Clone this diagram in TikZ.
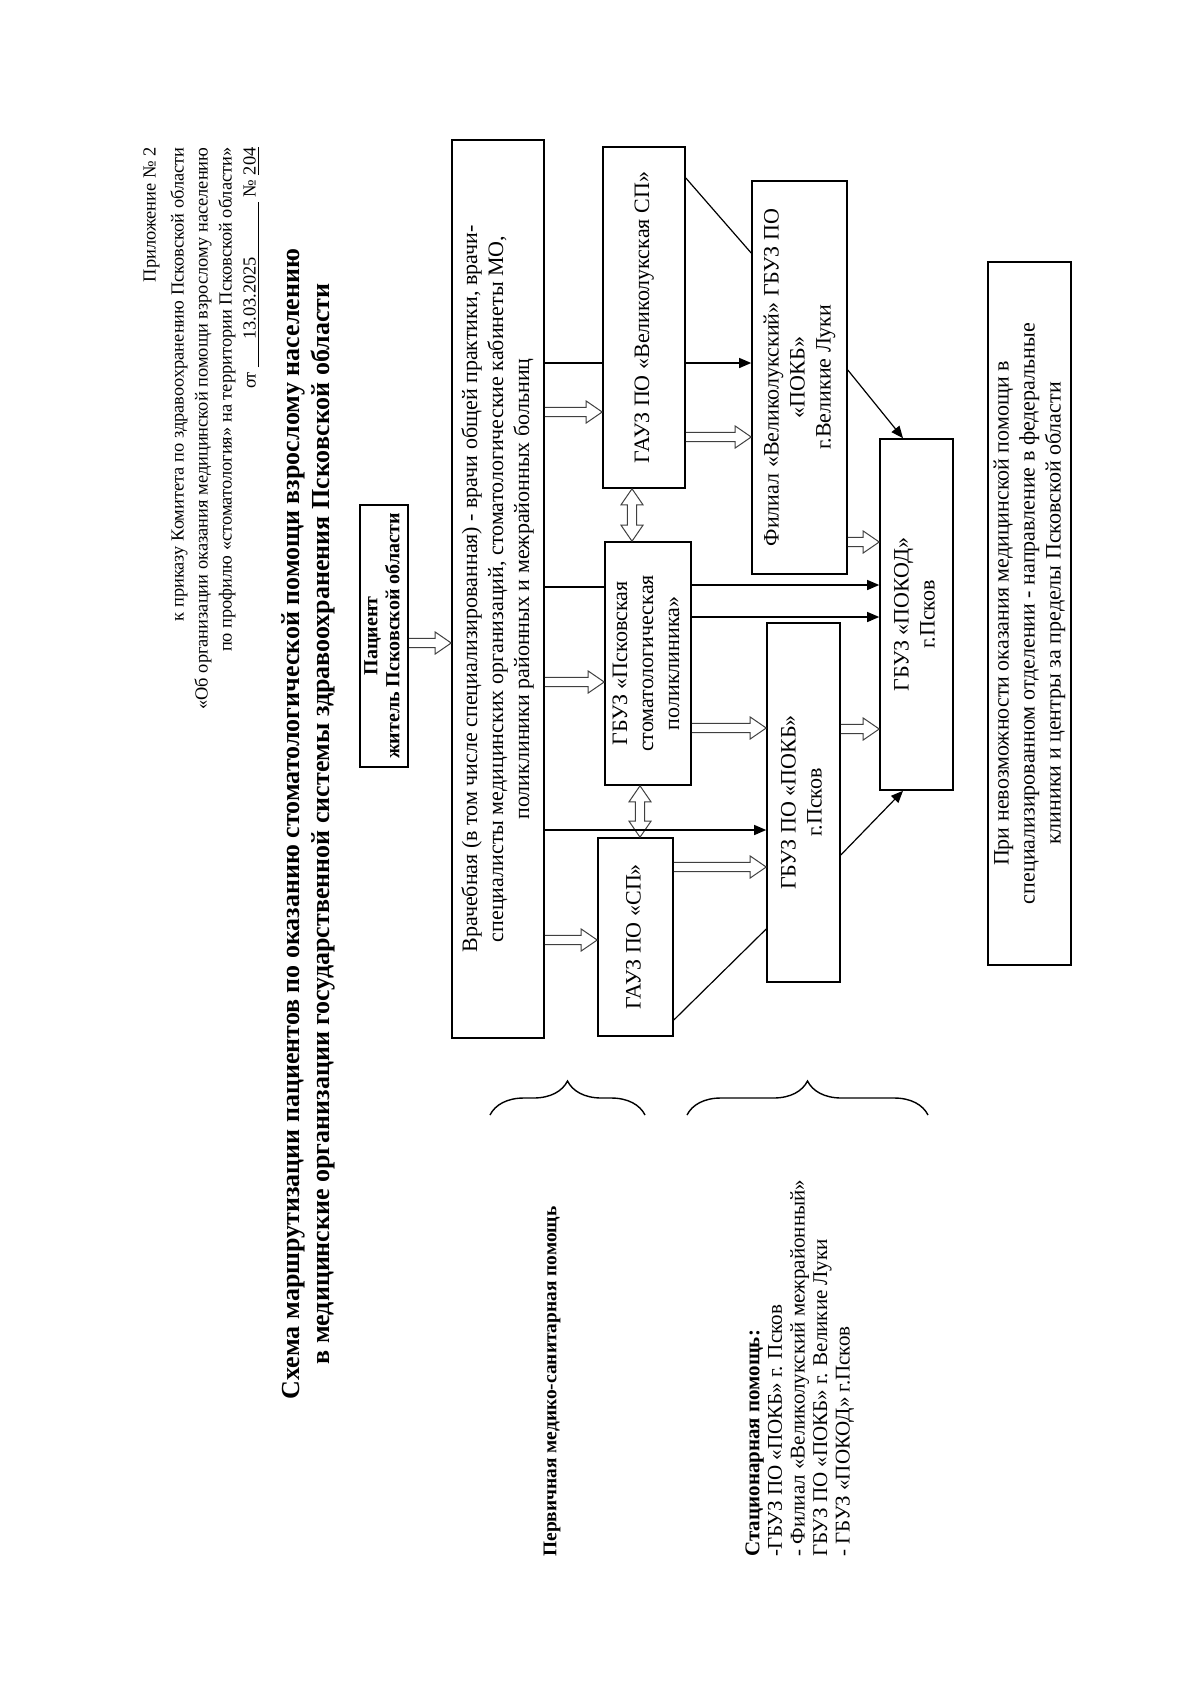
\documentclass[tikz,border=0pt]{standalone}
\usepackage{fontspec}
\setmainfont{Liberation Serif}
\usetikzlibrary{
    arrows.meta,
    calc,
    decorations.pathreplacing
}

% повёрнутый текст внутри блока
\newcommand\rottext[1]{\rotatebox{90}{\begin{tabular}{@{}c@{}}#1\end{tabular}}}

\tikzset{
    box/.style={draw, line width=0.8pt, inner sep=0pt, font=\fontsize{11}{13}\selectfont},
    arr/.style={-{Triangle[length=6pt,width=5pt]}, line width=0.6pt},
    hollow/.style={draw=black!75, line width=0.5pt, to path={
        let \p1=(\tikztostart), \p2=(\tikztotarget) in
        (\x1,\y1+2.3pt) -- (\x2-8pt,\y1+2.3pt) -- (\x2-8pt,\y1+5.5pt) -- (\x2,\y1)
        -- (\x2-8pt,\y1-5.5pt) -- (\x2-8pt,\y1-2.3pt) -- (\x1,\y1-2.3pt)}},
    hollowud/.style={draw=black!75, line width=0.5pt, to path={
        let \p1=(\tikztostart), \p2=(\tikztotarget) in
        (\x1,\y1) -- (\x1+5.5pt,\y1-8pt) -- (\x1+2.3pt,\y1-8pt) -- (\x1+2.3pt,\y2+8pt)
        -- (\x1+5.5pt,\y2+8pt) -- (\x1,\y2) -- (\x1-5.5pt,\y2+8pt) -- (\x1-2.3pt,\y2+8pt)
        -- (\x1-2.3pt,\y1-8pt) -- (\x1-5.5pt,\y1-8pt) -- cycle}}
}

\begin{document}
\begin{tikzpicture}[x=0.5pt,y=-0.5pt]
            \fill[white] (0,0) rectangle (1200,1697);
            \useasboundingbox (0,0) rectangle (1200,1697);

            % шапка
            \node[rotate=90, anchor=north east, inner sep=0pt, align=right, font=\fontsize{9.2}{12}\selectfont] (hdr) at (143,147)
                {Приложение № 2\\[2pt]
                 к приказу Комитета по здравоохранению Псковской области\\
                 «Об организации оказания медицинской помощи взрослому населению\\
                 по профилю «стоматология» на территории Псковской области»\\
                 от \underline{\hspace{1.5em}13.03.2025\hspace{3em}} № \underline{204}};
            \node[rotate=90, align=center, font=\bfseries\fontsize{13}{15}\selectfont] (title) at (308,824)
                {Схема маршрутизации пациентов по оказанию стоматологической помощи взрослому населению\\
                 в медицинские организации государственной системы здравоохранения Псковской области};

            % блоки
            \node[box, minimum width=24pt, minimum height=131pt, font=\bfseries\fontsize{10}{11}\selectfont] (pat) at (384,636)
                {\rottext{Пациент\\житель Псковской области}};
            \node[box, minimum width=46pt, minimum height=449pt] (main) at (498,589)
                {\rottext{Врачебная (в том числе специализированная) - врачи общей практики, врачи-\\
                 специалисты медицинских организаций, стоматологические кабинеты МО,\\
                 поликлиники районных и межрайонных больниц}};
            \node[box, minimum width=41pt, minimum height=170.5pt] (vlsp) at (644,317.5)
                {\rottext{ГАУЗ ПО «Великолукская СП»}};
            \node[box, minimum width=43pt, minimum height=121.5pt] (polik) at (648,663.5)
                {\rottext{ГБУЗ «Псковская\\стоматологическая\\поликлиника»}};
            \node[box, minimum width=37.5pt, minimum height=99pt] (sp) at (635.5,937)
                {\rottext{ГАУЗ ПО «СП»}};
            \node[box, minimum width=47.5pt, minimum height=196.5pt] (fil) at (799.5,377.5)
                {\rottext{Филиал «Великолукский» ГБУЗ ПО\\«ПОКБ»\\г.Великие Луки}};
            \node[box, minimum width=36.5pt, minimum height=179.5pt] (pokb) at (803.5,802.5)
                {\rottext{ГБУЗ ПО «ПОКБ»\\г.Псков}};
            \node[box, minimum width=36.5pt, minimum height=175.5pt] (pokod) at (916.5,614.5)
                {\rottext{ГБУЗ «ПОКОД»\\г.Псков}};
            \node[box, minimum width=41.5pt, minimum height=351.5pt] (nevoz) at (1029.5,613.5)
                {\rottext{При невозможности оказания медицинской помощи в\\
                 специализированном отделении - направление в федеральные\\
                 клиники и центры за пределы Псковской области}};

            % связи
            \draw[hollow] (pat.east |- 0,643) to (main.west |- 0,643);
            \draw[line width=0.6pt] (main.east |- 0,363) -- (vlsp.west |- 0,363);
            \draw[arr] (vlsp.east |- 0,363) -- (fil.west |- 0,363);
            \draw[hollow] (main.east |- 0,412) to (vlsp.west |- 0,412);
            \draw[hollow] (vlsp.east |- 0,437) to (fil.west |- 0,437);
            \draw[line width=0.6pt] (vlsp.east |- 0,178) -- (fil.west |- 0,253);
            \draw[hollowud] (vlsp.south -| 632,0) to (polik.north -| 632,0);
            \draw[line width=0.6pt] (main.east |- 0,587) -- (polik.west |- 0,587);
            \draw[arr] (polik.east |- 0,585) -- (pokod.west |- 0,585);
            \draw[arr] (polik.east |- 0,617) -- (pokod.west |- 0,617);
            \draw[hollow] (main.east |- 0,682) to (polik.west |- 0,682);
            \draw[hollow] (polik.east |- 0,728) to (pokb.west |- 0,728);
            \draw[hollow] (fil.east |- 0,542) to (pokod.west |- 0,542);
            \draw[arr] (fil.east |- 0,370) -- (pokod.north -| 903,0);
            \draw[hollow] (pokb.east |- 0,729) to (pokod.west |- 0,729);
            \draw[arr] (pokb.east |- 0,855) -- (pokod.south -| 903,0);
            \draw[hollowud] (polik.south -| 640,0) to (sp.north -| 640,0);
            \draw[arr] (main.east |- 0,830) -- (pokb.west |- 0,830);
            \draw[hollow] (main.east |- 0,940) to (sp.west |- 0,940);
            \draw[hollow] (sp.east |- 0,867) to (pokb.west |- 0,867);
            \draw[line width=0.6pt] (sp.east |- 0,1020) -- (pokb.west |- 0,929);

            % скобки и подписи
            \draw[decorate, decoration={brace, amplitude=17pt}, line width=0.7pt] (490,1115) -- (645,1115);
            \draw[decorate, decoration={brace, amplitude=17pt}, line width=0.7pt] (687,1115) -- (928,1115);
            \node[rotate=90, anchor=west, inner sep=0pt, font=\bfseries\fontsize{9.7}{12}\selectfont] (prim) at (552,1557)
                {Первичная медико-санитарная помощь};
            \node[rotate=90, anchor=north west, inner sep=0pt, align=left, font=\fontsize{10.5}{11.3}\selectfont] (stat) at (745,1557)
                {\textbf{Стационарная помощь:}\\
                 -ГБУЗ ПО «ПОКБ» г. Псков\\
                 - Филиал «Великолукский межрайонный»\\
                 ГБУЗ ПО «ПОКБ» г. Великие Луки\\
                 - ГБУЗ «ПОКОД» г.Псков};
        \end{tikzpicture}
\end{document}
